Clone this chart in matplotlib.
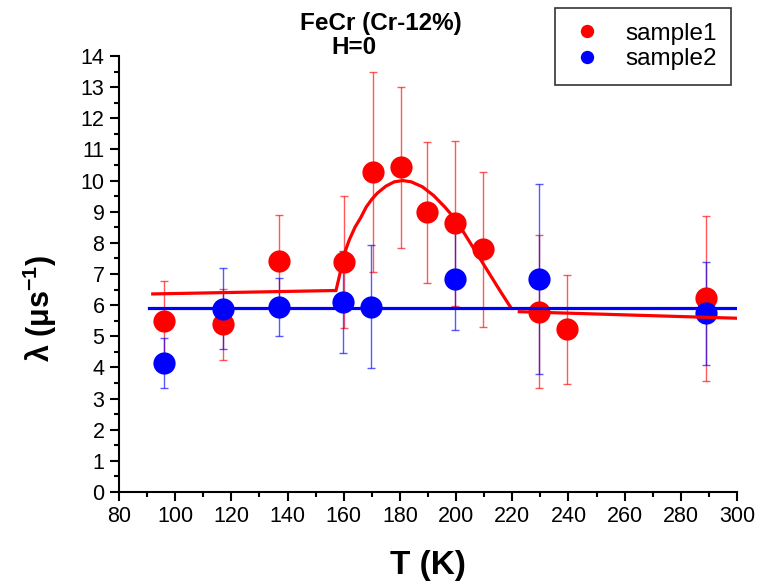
import matplotlib.pyplot as plt

plt.rcParams['font.family'] = ['Liberation Sans', 'DejaVu Sans']
plt.rcParams['mathtext.fontset'] = 'custom'
plt.rcParams['mathtext.rm'] = 'Liberation Sans'
plt.rcParams['mathtext.bf'] = 'Liberation Sans:bold'

# sample1 (red)
t1 = [96, 117, 137, 160, 170.5, 180.5, 189.5, 199.6, 209.5, 229.5, 239.5, 289]
lam1 = [5.49, 5.38, 7.43, 7.4, 10.27, 10.42, 8.98, 8.63, 7.79, 5.79, 5.22, 6.22]
err1 = [1.28, 1.15, 1.47, 2.12, 3.2, 2.57, 2.27, 2.65, 2.5, 2.45, 1.75, 2.65]

# sample2 (blue)
t2 = [96, 117, 137, 159.6, 169.8, 199.6, 229.5, 289]
lam2 = [4.13, 5.88, 5.95, 6.11, 5.95, 6.84, 6.84, 5.74]
err2 = [0.8, 1.3, 0.93, 1.64, 1.97, 1.65, 3.05, 1.65]

# fit lines
fit1a_t = [92, 157]
fit1a_y = [6.36, 6.47]
fit1b_t = [157.3, 158.5, 160, 162, 164, 166, 168, 170, 172, 175, 178, 181,
           184, 188, 192, 196, 200, 204, 208, 212, 216, 219.5]
fit1b_y = [6.49, 6.95, 7.6, 8.1, 8.5, 8.8, 9.15, 9.4, 9.6, 9.82, 9.96, 10.0,
           9.96, 9.8, 9.52, 9.15, 8.73, 8.15, 7.57, 6.99, 6.41, 5.92]
fit1c_t = [222.5, 300]
fit1c_y = [5.79, 5.58]
fit2_t = [90.5, 300]
fit2_y = [5.92, 5.92]

fig = plt.figure(figsize=(7.6, 5.82), dpi=100)
ax = fig.add_axes([0.1566, 0.1546, 0.8131, 0.7492])

ax.errorbar(t1, lam1, yerr=err1, fmt='none', ecolor=(1, 0, 0, 0.65),
            elinewidth=1, capsize=3, capthick=1, zorder=2)
ax.errorbar(t2, lam2, yerr=err2, fmt='none', ecolor=(0, 0, 1, 0.65),
            elinewidth=1, capsize=3, capthick=1, zorder=2)
ax.plot(t1, lam1, 'o', color='red', markersize=16, markeredgewidth=0,
        label='sample1', zorder=3)
ax.plot(t2, lam2, 'o', color='blue', markersize=16, markeredgewidth=0,
        label='sample2', zorder=3)

ax.plot(fit1a_t, fit1a_y, color='red', lw=2.3, zorder=4)
ax.plot(fit1b_t, fit1b_y, color='red', lw=2.3, zorder=4)
ax.plot(fit1c_t, fit1c_y, color='red', lw=2.3, zorder=4)
ax.plot(fit2_t, fit2_y, color='blue', lw=2.3, zorder=4)

ax.set_xlim(80, 300)
ax.set_ylim(0, 14)
ax.set_xticks(range(80, 301, 20))
ax.set_xticks(range(90, 300, 20), minor=True)
ax.set_yticks(range(0, 15))
ax.set_yticks([i + 0.5 for i in range(14)], minor=True)
ax.spines['top'].set_visible(False)
ax.spines['right'].set_visible(False)
for s in ['left', 'bottom']:
    ax.spines[s].set_linewidth(1.5)
ax.tick_params(which='major', direction='out', length=6.5, width=1.5, labelsize=15.5)
ax.tick_params(which='minor', direction='out', length=3.8, width=1.5)
ax.tick_params(axis='y', which='major', pad=4)

ax.set_xlabel('T (K)', fontsize=24, fontweight='bold', va='center')
ax.xaxis.set_label_coords(0.5, -0.1674)
ax.set_ylabel(r'λ (μs$^{\mathbf{-1}}$)', fontsize=22, fontweight='bold', va='center')
ax.yaxis.set_label_coords(-0.1278, 0.422)

fig.text(0.501, 0.9588, 'FeCr (Cr-12%)', fontsize=17.5, fontweight='bold', ha='center', va='center')
fig.text(0.4658, 0.918, 'H=0', fontsize=17.5, fontweight='bold', ha='center', va='center')

leg = ax.legend(loc='upper right', bbox_to_anchor=(0.9618, 0.9863),
                bbox_transform=fig.transFigure, borderaxespad=0, fontsize=17.5,
                frameon=True, fancybox=False, edgecolor='black', borderpad=0.6,
                handlelength=1.43, handletextpad=0.85, markerscale=0.6,
                labelspacing=0.15)
leg.get_frame().set_linewidth(1.2)

fig.savefig('out.png', dpi=100)
